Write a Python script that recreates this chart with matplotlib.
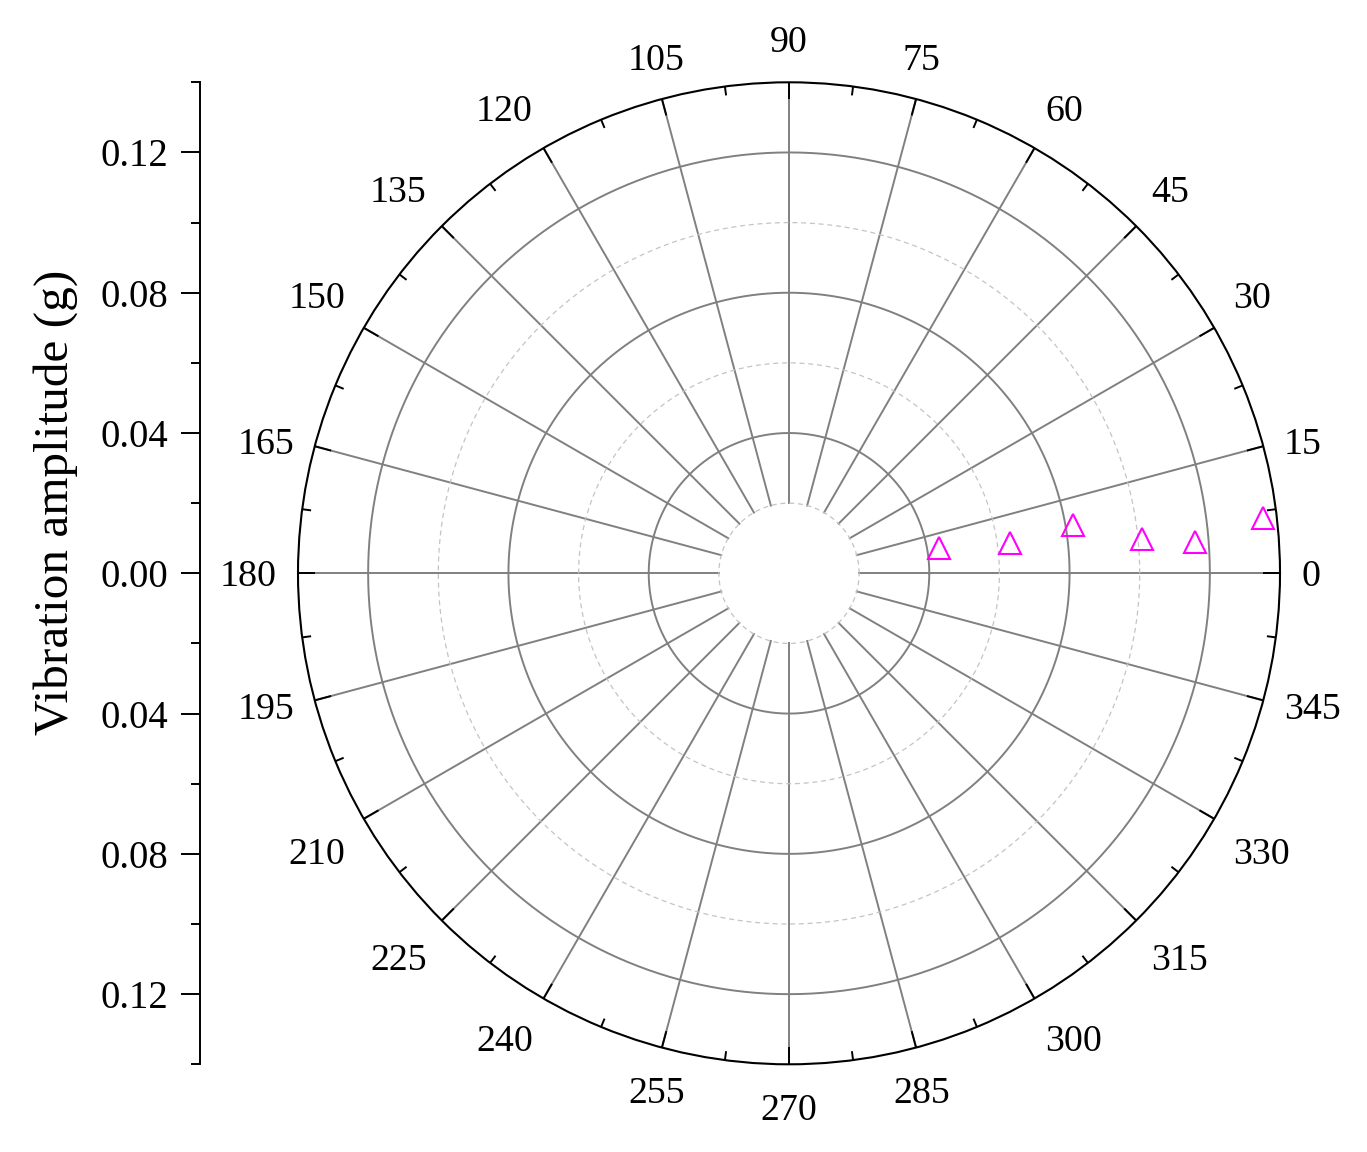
import matplotlib
matplotlib.use("agg")
import matplotlib.pyplot as plt
import numpy as np

# values: angle (deg) and vibration amplitude (g)
angle_deg = [9.7, 7.8, 9.7, 5.6, 4.4, 6.7]
amplitude = [0.0435, 0.0635, 0.0821, 0.1011, 0.1161, 0.1362]

theta_labels = [str(a) for a in range(0, 360, 15)]
r_major = [-0.12, -0.08, -0.04, 0.0, 0.04, 0.08, 0.12]
r_minor = [-0.14, -0.10, -0.06, -0.02, 0.02, 0.06, 0.10, 0.14]
solid_rings = [0.04, 0.08, 0.12]
dashed_rings = [0.02, 0.06, 0.10]
r_max = 0.14
r_hole = 0.02

plt.rcParams['font.family'] = ['Liberation Serif', 'DejaVu Serif']
plt.rcParams['font.size'] = 27.3

W, H = 1367, 1152
fig = plt.figure(figsize=(W / 100, H / 100), dpi=100)

# polar area (pixel centre and radius taken from the reference layout)
cx, cy, rad = 789, 573.3, 491
bottom = (H - cy - rad) / H
ax = fig.add_axes([(cx - rad) / W, bottom, 2 * rad / W, 2 * rad / H], projection='polar')
ax.set_ylim(0, r_max)
ax.grid(False)
ax.set_yticks([])
ax.set_xticks([])
ax.spines['polar'].set_linewidth(1.5)
ax.spines['polar'].set_color('black')

px = r_max / rad   # data units per pixel along the radius
majors = np.deg2rad(np.arange(0, 360, 15))
minors = np.deg2rad(np.arange(7.5, 360, 15))

# spokes and rings
for th in majors:
    ax.plot([th, th], [r_hole, r_max], color='#808080', lw=1.4, zorder=1)
t = np.linspace(0, 2 * np.pi, 721)
for r in solid_rings:
    ax.plot(t, np.full_like(t, r), color='#808080', lw=1.4, zorder=1)
for r in dashed_rings:
    ax.plot(t, np.full_like(t, r), color='#c4c4c4', lw=0.9, ls=(0, (4, 3)), zorder=1)

# inward ticks on the rim
for th in majors:
    ax.plot([th, th], [r_max - 16 * px, r_max], color='black', lw=1.4, zorder=2)
for th in minors:
    ax.plot([th, th], [r_max - 8 * px, r_max], color='black', lw=1.4, zorder=2)

ax.plot(np.deg2rad(angle_deg), amplitude, ls='none', marker='^', ms=16,
        mfc='none', mec='#ff00ff', mew=1.5, clip_on=False, zorder=3)

# angle labels outside the rim: box edge/corner touches a circle 21.5 px out
anchor_r = rad + 21.5
hxs = [1, 1, 0, -1, -1, -1, 0, 1]
hys = [0, 1, 1, 1, 0, -1, -1, -1]
for lbl in theta_labels:
    deg = float(lbl)
    th = np.deg2rad(deg)
    c, s = np.cos(th), np.sin(th)
    a = len(lbl) * 18.9 / 2
    b = 21.5
    sec = int(((deg + 22.5) % 360) // 45)
    ox = (anchor_r - rad) * c + hxs[sec] * a
    oy = (anchor_r - rad) * s + hys[sec] * b - 12.85
    ax.annotate(lbl, xy=(th, r_max), xytext=(ox * 0.72, oy * 0.72),
                textcoords='offset points', ha='center', va='baseline',
                annotation_clip=False)

# left amplitude scale
ax2 = fig.add_axes([200 / W, bottom, 0.05, 2 * rad / H])
ax2.set_ylim(-r_max, r_max)
ax2.patch.set_visible(False)
for side in ['right', 'top', 'bottom']:
    ax2.spines[side].set_visible(False)
ax2.spines['left'].set_linewidth(1.4)
ax2.set_xticks([])
ax2.set_yticks(r_major)
ax2.set_yticklabels([f"{abs(v):.2f}" for v in r_major])
ax2.set_yticks(r_minor, minor=True)
ax2.tick_params(axis='y', which='major', length=13.7, width=1.4, pad=9.4, labelsize=27.8)
ax2.tick_params(axis='y', which='minor', length=6.8, width=1.4)

fig.text(56 / W, 1 - 502 / H, 'Vibration amplitude (g)', rotation=90,
         fontsize=35.5, ha='center', va='center')

plt.savefig('out.png', dpi=100)
plt.close()
